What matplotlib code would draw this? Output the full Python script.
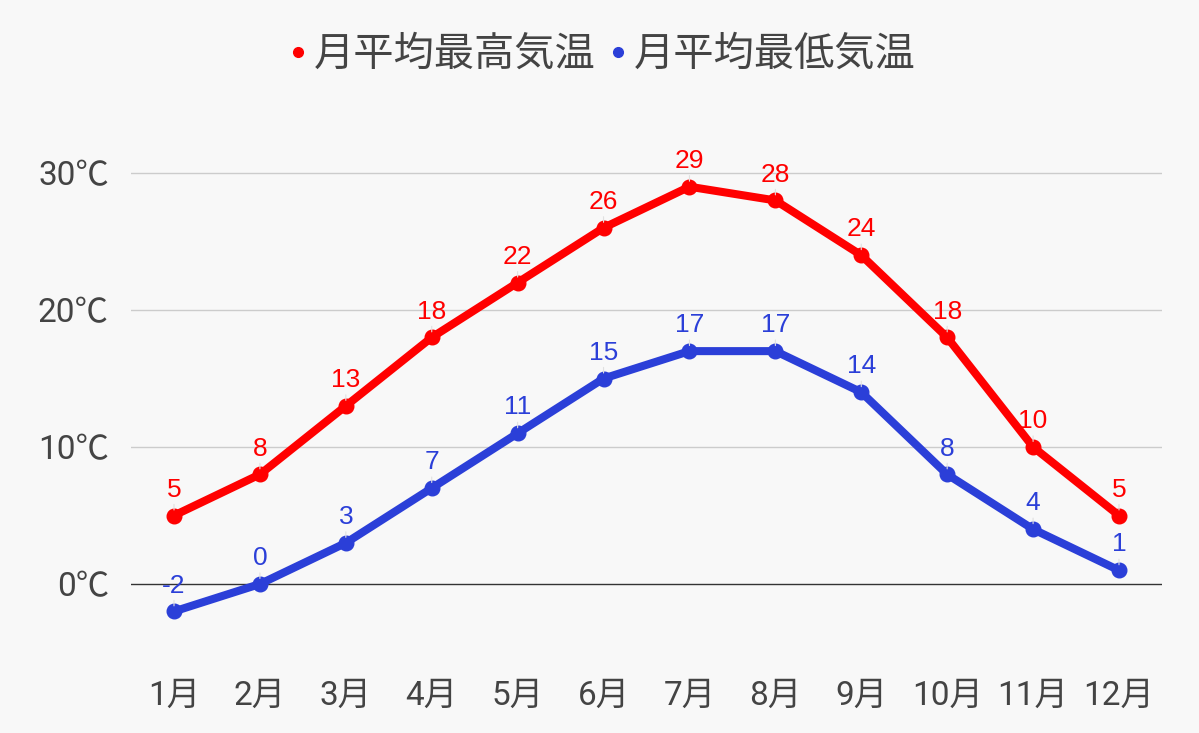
import matplotlib
matplotlib.use("Agg")
import matplotlib.pyplot as plt
from matplotlib.lines import Line2D

months = ["1月", "2月", "3月", "4月", "5月", "6月", "7月", "8月", "9月", "10月", "11月", "12月"]
high = [5, 8, 13, 18, 22, 26, 29, 28, 24, 18, 10, 5]
low = [-2, 0, 3, 7, 11, 15, 17, 17, 14, 8, 4, 1]
series_names = ["月平均最高気温", "月平均最低気温"]
yticks = [0, 10, 20, 30]
ytick_labels = ["0℃", "10℃", "20℃", "30℃"]

RED = "#ff0000"
BLUE = "#2b3fd8"
BG = "#f8f8f8"
TXT = "#444444"
FONTS = ["Roboto", "Noto Sans CJK JP", "DejaVu Sans"]
plt.rcParams["font.family"] = FONTS

fig = plt.figure(figsize=(11.99, 7.33), dpi=100, facecolor=BG)
ax = fig.add_axes([0.1093, 0.1098, 0.8598, 0.7476], facecolor=BG)

x = list(range(1, 13))
for vals, col in ((high, RED), (low, BLUE)):
    ax.plot(x, vals, color=col, lw=5.8, marker="o", ms=10.5, solid_capstyle="round",
            solid_joinstyle="round", zorder=3)
    for xi, v in zip(x, vals):
        ax.annotate(str(v), xy=(xi, v), xytext=(0, 10), textcoords="offset points",
                    ha="center", va="bottom", fontsize=19, color=col, zorder=4,
                    family=["Liberation Sans", "DejaVu Sans"],
                    arrowprops=dict(arrowstyle="-", color="#e0e0e0", lw=0.8,
                                    shrinkA=0, shrinkB=4))

ax.set_xlim(0.5, 12.5)
ax.set_ylim(-5, 35)
ax.set_yticks(yticks)
ax.set_yticklabels(ytick_labels)
ax.set_xticks(x)
ax.set_xticklabels(months)
ax.tick_params(axis="both", length=0, labelsize=24, colors=TXT)
ax.tick_params(axis="y", pad=16)
ax.tick_params(axis="x", pad=20)
for s in ax.spines.values():
    s.set_visible(False)
for t in yticks:
    ax.axhline(t, color="#333333" if t == 0 else "#cccccc", lw=1, zorder=1)

handles = [Line2D([], [], color=RED, marker="o", ls="none", ms=7),
           Line2D([], [], color=BLUE, marker="o", ls="none", ms=7)]
leg = fig.legend(handles, series_names, loc="center", bbox_to_anchor=(0.5, 0.926),
                 ncol=2, frameon=False, fontsize=29, handletextpad=0.05,
                 columnspacing=0.2, handlelength=0.7)
for t in leg.get_texts():
    t.set_color(TXT)

fig.savefig("out.png", dpi=100, facecolor=BG)
